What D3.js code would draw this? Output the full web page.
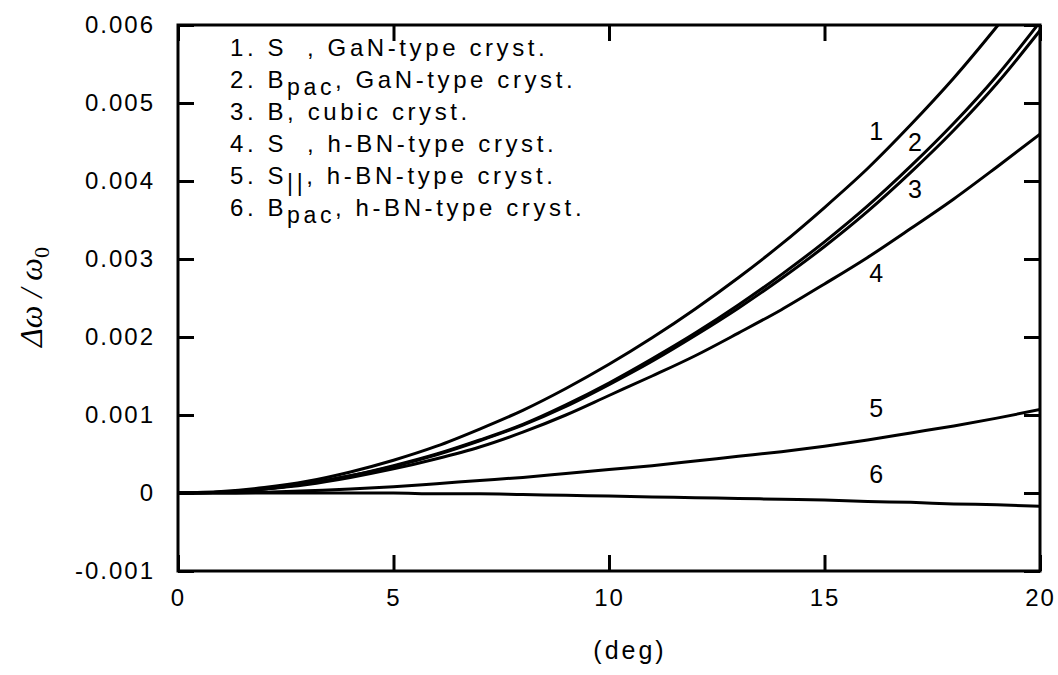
<!DOCTYPE html>
<html>
<head>
<meta charset="utf-8">
<script src="https://cdnjs.cloudflare.com/ajax/libs/d3/7.8.5/d3.min.js"></script>
<style>
	body { margin: 0; background: #fff; }
	svg text { font-family: "Liberation Sans", Arial, sans-serif; fill: #000; }
</style>
</head>
<body>
<div id="chart"></div>
<script>
/**********************************************************/
/*														  */
/*	Data												  */
/*														  */
/**********************************************************/

// Angle (deg)
var degrees =	[0, 1, 2, 3, 4, 5, 6, 7, 8, 9, 10, 11, 12, 13, 14, 15, 16, 17, 18, 19, 20];

// Relative frequency shift, one array per curve
var sGaN =		[0, 0.00002, 0.00007, 0.00015, 0.00027, 0.00042, 0.00060, 0.00082, 0.00106, 0.00134, 0.00165, 0.00199, 0.00236, 0.00276, 0.00319, 0.00366, 0.00416, 0.00472, 0.00532, 0.00598, 0.00668];
var bpacGaN =	[0, 0.00001, 0.00005, 0.00012, 0.00022, 0.00035, 0.00050, 0.00068, 0.00088, 0.00113, 0.00141, 0.00172, 0.00205, 0.00241, 0.00280, 0.00322, 0.00368, 0.00419, 0.00474, 0.00535, 0.00604];
var bCubic =	[0, 0.00001, 0.00005, 0.00012, 0.00022, 0.00034, 0.00049, 0.00067, 0.00087, 0.00111, 0.00139, 0.00169, 0.00202, 0.00237, 0.00275, 0.00316, 0.00361, 0.00411, 0.00465, 0.00525, 0.00593];
var sHBN =		[0, 0.00001, 0.00005, 0.00011, 0.00020, 0.00031, 0.00044, 0.00059, 0.00078, 0.00100, 0.00125, 0.00150, 0.00176, 0.00205, 0.00235, 0.00268, 0.00302, 0.00339, 0.00377, 0.00418, 0.00460];
var sParHBN =	[0, 0, 0.00001, 0.00003, 0.00005, 0.00008, 0.00012, 0.00016, 0.00020, 0.00025, 0.00030, 0.00035, 0.00041, 0.00047, 0.00053, 0.00060, 0.00068, 0.00077, 0.00086, 0.00096, 0.00107];
var bpacHBN =	[0, 0, 0, 0, 0, 0, -0.00001, -0.00001, -0.00002, -0.00003, -0.00004, -0.00005, -0.00006, -0.00007, -0.00008, -0.00009, -0.00011, -0.00012, -0.00014, -0.00015, -0.00017];

// Ticks
var xTicks =	[0, 5, 10, 15, 20];
var yTicks =	[-0.001, 0, 0.001, 0.002, 0.003, 0.004, 0.005, 0.006];

// Legend lines: number, symbol, subscript, rest
var legendItems = [
	["1.", "S", "  ", ", GaN-type cryst."],
	["2.", "B", "pac", ", GaN-type cryst."],
	["3.", "B", "", ", cubic cryst."],
	["4.", "S", "  ", ", h-BN-type cryst."],
	["5.", "S", "||", ", h-BN-type cryst."],
	["6.", "B", "pac", ", h-BN-type cryst."]
];

// Curve numbers, placed in data units (deg, value)
var curveLabels = [
	{ t: "1", x: 16.2, y: 0.00452 },
	{ t: "2", x: 17.1, y: 0.00439 },
	{ t: "3", x: 17.1, y: 0.00378 },
	{ t: "4", x: 16.2, y: 0.00271 },
	{ t: "5", x: 16.2, y: 0.00097 },
	{ t: "6", x: 16.2, y: 0.00013 }
];

/**********************************************************/
/*														  */
/*	Layout												  */
/*														  */
/**********************************************************/

var W = 1058, H = 675;
var plot =		{ left: 178, top: 25, right: 1040, bottom: 571 };
var tickLen =	16;

var x = d3.scaleLinear().domain([0, 20]).range([plot.left, plot.right]);
var y = d3.scaleLinear().domain([-0.001, 0.006]).range([plot.bottom, plot.top]);

var svg = d3.select("#chart").append("svg")
	.attr("width", W)
	.attr("height", H);

svg.append("clipPath").attr("id", "clip")
	.append("rect")
	.attr("x", plot.left).attr("y", plot.top)
	.attr("width", plot.right - plot.left)
	.attr("height", plot.bottom - plot.top);

/**********************************************************/
/*														  */
/*	Axes												  */
/*														  */
/**********************************************************/

function styleAxis(g) {
	g.select(".domain").remove();
	g.selectAll(".tick line").attr("stroke", "#000").attr("stroke-width", 3);
	g.selectAll(".tick text")
		.attr("fill", "#000")
		.style("font-size", "24px")
		.style("letter-spacing", "2px");
}

// Plain hyphen for negatives, as in the original
var yFormat = function(d) { return d === 0 ? "0" : d3.format(".3f")(d).replace("\u2212", "-"); };

svg.append("g")
	.attr("transform", "translate(" + plot.left + ",0)")
	.call(d3.axisLeft(y).tickValues(yTicks).tickSize(-tickLen).tickPadding(23).tickFormat(yFormat))
	.call(styleAxis);

svg.append("g")
	.attr("transform", "translate(" + plot.right + ",0)")
	.call(d3.axisRight(y).tickValues(yTicks).tickSize(-tickLen).tickFormat(""))
	.call(styleAxis);

svg.append("g")
	.attr("transform", "translate(0," + plot.bottom + ")")
	.call(d3.axisBottom(x).tickValues(xTicks).tickSize(-tickLen).tickPadding(18).tickFormat(d3.format("d")))
	.call(styleAxis);

svg.append("g")
	.attr("transform", "translate(0," + plot.top + ")")
	.call(d3.axisTop(x).tickValues(xTicks).tickSize(-tickLen).tickFormat(""))
	.call(styleAxis);

// Frame
svg.append("rect")
	.attr("x", plot.left).attr("y", plot.top)
	.attr("width", plot.right - plot.left)
	.attr("height", plot.bottom - plot.top)
	.attr("fill", "none")
	.attr("stroke", "#000")
	.attr("stroke-width", 3);

// Axis titles
svg.append("text")
	.attr("x", 630).attr("y", 659)
	.attr("text-anchor", "middle")
	.style("font-size", "25px")
	.style("letter-spacing", "3px")
	.text("(deg)");

var yTitle = svg.append("text")
	.attr("transform", "translate(42,297) rotate(-90)")
	.attr("text-anchor", "middle")
	.style("font-family", "'Liberation Serif', 'Times New Roman', serif")
	.style("font-size", "32px")
	.style("font-style", "italic");
yTitle.append("tspan").text("\u0394\u03c9 / \u03c9");
yTitle.append("tspan")
	.attr("dy", 7)
	.style("font-style", "normal")
	.style("font-size", "22px")
	.text("0");

/**********************************************************/
/*														  */
/*	Curves												  */
/*														  */
/**********************************************************/

var series = [sGaN, bpacGaN, bCubic, sHBN, sParHBN, bpacHBN];

var line = d3.line()
	.x(function(d, i) { return x(degrees[i]); })
	.y(function(d) { return y(d); })
	.curve(d3.curveMonotoneX);

svg.append("g")
	.attr("clip-path", "url(#clip)")
	.selectAll("path")
	.data(series)
	.enter().append("path")
	.attr("d", line)
	.attr("fill", "none")
	.attr("stroke", "#000")
	.attr("stroke-width", 3)
	.attr("stroke-linejoin", "round");

// Curve numbers
svg.append("g")
	.selectAll("text")
	.data(curveLabels)
	.enter().append("text")
	.attr("x", function(d) { return x(d.x); })
	.attr("y", function(d) { return y(d.y); })
	.attr("text-anchor", "middle")
	.style("font-size", "25px")
	.text(function(d) { return d.t; });

/**********************************************************/
/*														  */
/*	Legend												  */
/*														  */
/**********************************************************/

var legend = svg.append("g")
	.attr("transform", "translate(230,56)");

legendItems.forEach(function(item, i) {
	var t = legend.append("text")
		.attr("x", 0)
		.attr("y", i * 32)
		.attr("xml:space", "preserve")
		.style("white-space", "pre")
		.style("font-size", "24px")
		.style("letter-spacing", "3.6px");
	t.append("tspan").text(item[0] + " " + item[1]);
	if (item[2]) t.append("tspan")
		.attr("dy", 7)
		.style("font-size", "23px")
		.text(item[2]);
	t.append("tspan")
		.attr("dy", item[2] ? -7 : 0)
		.text(item[3]);
});
</script>
</body>
</html>
